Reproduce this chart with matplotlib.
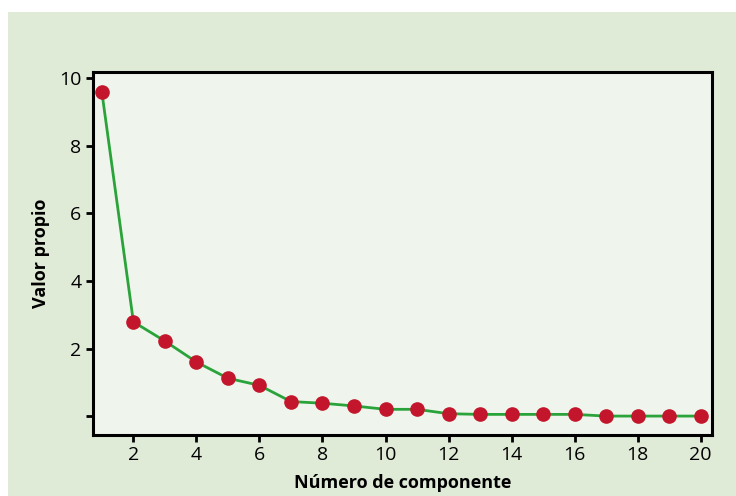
import matplotlib.pyplot as plt
from matplotlib.patches import Rectangle

# autovalores por componente (gráfico de sedimentación)
componentes = list(range(1, 21))
valores = [9.59, 2.79, 2.22, 1.60, 1.12, 0.91, 0.43, 0.38, 0.30, 0.20,
           0.20, 0.07, 0.05, 0.05, 0.05, 0.05, 0.0, 0.0, 0.0, 0.0]
xticks = list(range(2, 21, 2))
yticks = [0, 2, 4, 6, 8, 10]
ytick_labels = ["", "2", "4", "6", "8", "10"]

plt.rcParams["font.family"] = ["Open Sans", "DejaVu Sans"]

fig = plt.figure(figsize=(7.36, 4.96), dpi=100)
fig.patch.set_facecolor("white")
# fondo verde del recuadro
fig.patches.append(Rectangle((8 / 736, 0), 1, 1 - 12 / 496, transform=fig.transFigure,
                             facecolor="#e0ebd7", edgecolor="none", zorder=-1))

ax = fig.add_axes([0.126, 0.123, 0.841, 0.732])
ax.set_zorder(1)
ax.set_facecolor("#eff5ec")
ax.plot(componentes, valores, color="#2aa33a", lw=2.0, zorder=2)
ax.plot(componentes, valores, "o", color="#c3152b", markersize=9.5, zorder=3)

ax.set_xlim(0.71, 20.35)
ax.set_ylim(-0.56, 10.19)
ax.set_xticks(xticks)
ax.set_yticks(yticks)
ax.set_yticklabels(ytick_labels)
ax.tick_params(direction="out", length=5, width=2, labelsize=14, colors="black", pad=3)
for s in ax.spines.values():
    s.set_linewidth(2.2)
    s.set_color("black")

ax.set_xlabel("Número de componente", fontsize=13, fontweight="bold", labelpad=7)
ax.set_ylabel("Valor propio", fontsize=13, fontweight="bold", labelpad=7)

plt.savefig("out.png", dpi=100)
print("Saved: out.png")
